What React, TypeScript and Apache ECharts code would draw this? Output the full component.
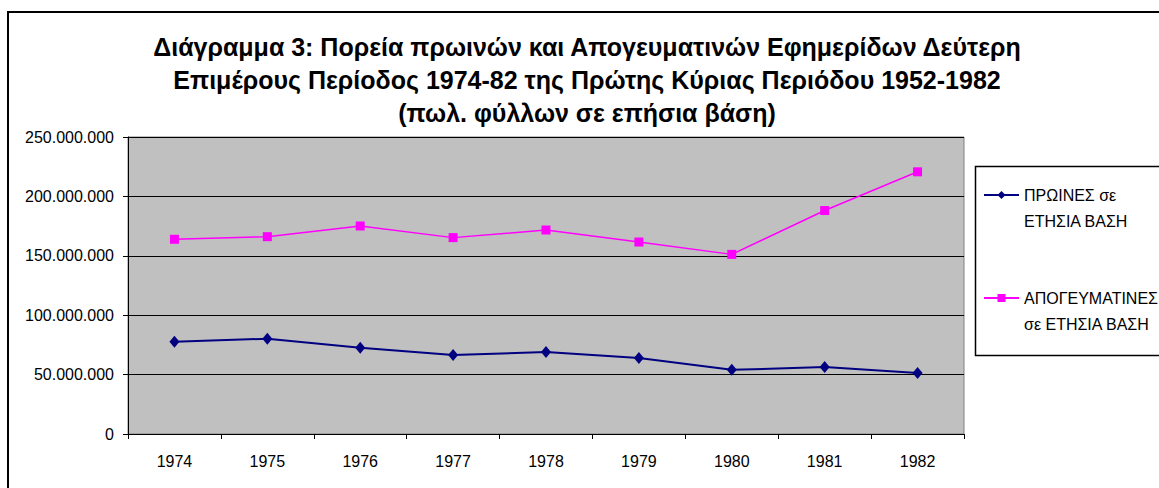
import React, { useEffect, useRef } from "react";
import * as echarts from "echarts";

const years = ["1974", "1975", "1976", "1977", "1978", "1979", "1980", "1981", "1982"];
const morning = [77700000, 80200000, 72600000, 66400000, 69000000, 63900000, 54000000, 56300000, 51300000];
const afternoon = [163900000, 166100000, 175100000, 165300000, 171700000, 161600000, 151200000, 188100000, 220700000];
const seriesNames = ["ΠΡΩΙΝΕΣ σε ΕΤΗΣΙΑ ΒΑΣΗ", "ΑΠΟΓΕΥΜΑΤΙΝΕΣ σε ΕΤΗΣΙΑ ΒΑΣΗ"];
const legendLines: Record<string, string[]> = {
  "ΠΡΩΙΝΕΣ σε ΕΤΗΣΙΑ ΒΑΣΗ": ["ΠΡΩΙΝΕΣ σε", "ΕΤΗΣΙΑ ΒΑΣΗ"],
  "ΑΠΟΓΕΥΜΑΤΙΝΕΣ σε ΕΤΗΣΙΑ ΒΑΣΗ": ["ΑΠΟΓΕΥΜΑΤΙΝΕΣ", "σε ΕΤΗΣΙΑ ΒΑΣΗ"],
};
const titleText =
  "Διάγραμμα 3: Πορεία πρωινών και Απογευματινών Εφημερίδων Δεύτερη\nΕπιμέρους Περίοδος 1974-82 της Πρώτης Κύριας Περιόδου 1952-1982\n(πωλ. φύλλων σε επήσια βάση)";

const FONT = "'Liberation Sans', Arial, sans-serif";

function fmt(v: number): string {
  return String(Math.round(v)).replace(/\B(?=(\d{3})+(?!\d))/g, ".");
}

export default function App() {
  const ref = useRef<HTMLDivElement>(null);
  useEffect(() => {
    if (!ref.current) return;
    const chart = echarts.init(ref.current, undefined, { renderer: "svg" });
    chart.setOption({
      animation: false,
      backgroundColor: "#ffffff",
      textStyle: { fontFamily: FONT },
      title: {
        text: titleText,
        left: 582,
        top: 25,
        textAlign: "center",
        textStyle: {
          fontFamily: FONT,
          fontWeight: "bold",
          fontSize: 25,
          lineHeight: 33,
          color: "#000",
        },
      },
      graphic: [
        {
          type: "rect",
          shape: { x: 8, y: 12, width: 1200, height: 520 },
          style: { fill: "none", stroke: "#000", lineWidth: 2 },
          silent: true,
        },
        {
          type: "rect",
          shape: { x: 975.5, y: 166.5, width: 300, height: 189 },
          style: { fill: "none", stroke: "#000", lineWidth: 1.5 },
          silent: true,
        },
      ],
      legend: {
        orient: "vertical",
        left: 983,
        top: 161,
        padding: 0,
        itemWidth: 35,
        itemHeight: 10,
        itemGap: 35,
        data: seriesNames,
        formatter: (name: string) => {
          const l = legendLines[name];
          return "{a| }\n{a|" + l[0] + "}\n{a|" + l[1] + "}";
        },
        textStyle: {
          rich: {
            a: { fontFamily: FONT, fontSize: 16, lineHeight: 26, color: "#000" },
          },
        },
      },
      grid: {
        left: 128,
        top: 137,
        right: 195,
        bottom: 54,
        show: true,
        backgroundColor: "#C0C0C0",
        borderColor: "#808080",
        borderWidth: 1,
      },
      xAxis: {
        type: "category",
        data: years,
        boundaryGap: true,
        axisLine: { show: true, lineStyle: { color: "#000", width: 1 } },
        axisTick: { show: true, length: 5, inside: false, lineStyle: { color: "#000" } },
        axisLabel: { fontFamily: FONT, fontSize: 16, color: "#000", margin: 19 },
        splitLine: { show: false },
      },
      yAxis: {
        type: "value",
        min: 0,
        max: 250000000,
        interval: 50000000,
        axisLine: { show: true, lineStyle: { color: "#000", width: 1 } },
        axisTick: { show: true, length: 5, lineStyle: { color: "#000" } },
        axisLabel: {
          fontFamily: FONT,
          fontSize: 16,
          color: "#000",
          margin: 14,
          formatter: (v: number) => fmt(v),
        },
        splitLine: { show: true, lineStyle: { color: "#000", width: 1 } },
      },
      series: [
        {
          name: seriesNames[0],
          type: "line",
          data: morning,
          symbol: "diamond",
          symbolSize: [10, 12],
          lineStyle: { color: "#000080", width: 2 },
          itemStyle: { color: "#000080" },
        },
        {
          name: seriesNames[1],
          type: "line",
          data: afternoon,
          symbol: "rect",
          symbolSize: 9,
          lineStyle: { color: "#FF00FF", width: 1.5 },
          itemStyle: { color: "#FF00FF" },
        },
      ],
    });
    return () => chart.dispose();
  }, []);
  return (
    <div
      ref={ref}
      style={{ position: "fixed", left: 0, top: 0, width: 1159, height: 488 }}
    />
  );
}
